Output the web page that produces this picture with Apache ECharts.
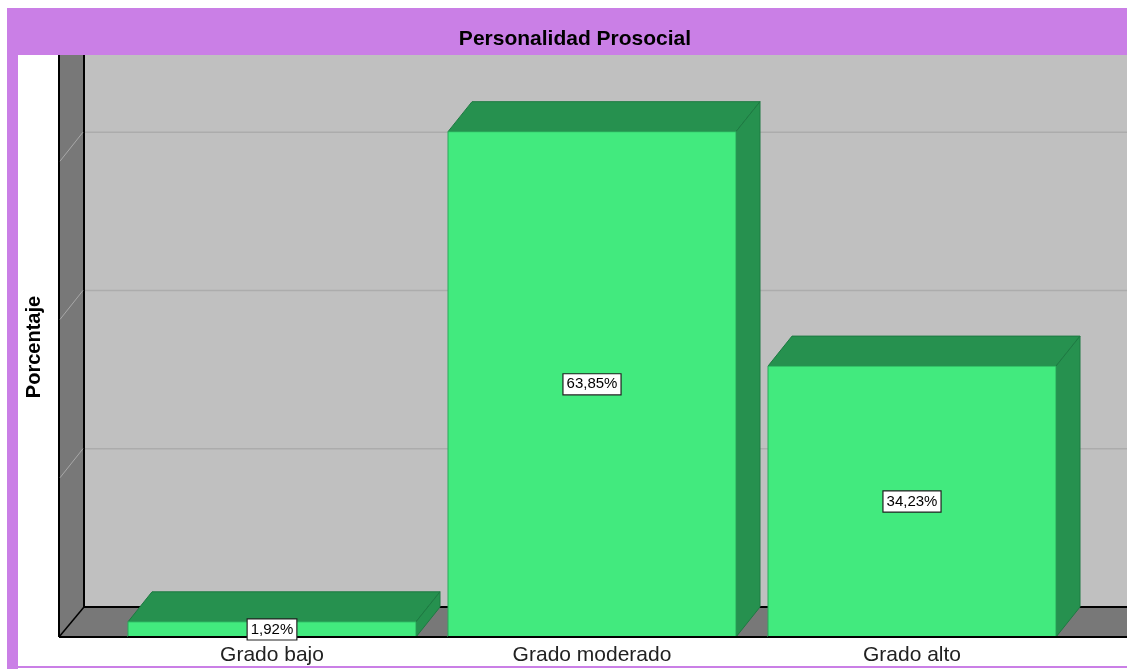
<!DOCTYPE html>
<html>
<head>
<meta charset="utf-8">
<script src="https://cdn.jsdelivr.net/npm/echarts@6/dist/echarts.min.js"></script>
<style>html,body{margin:0;padding:0;background:#fff;}#c{width:1127px;height:669px;}</style>
</head>
<body>
<div id="c"></div>
<script>
var categories = ['Grado bajo', 'Grado moderado', 'Grado alto'];
var percentages = [1.92, 63.85, 34.23];
var yTicks = [0, 20, 40, 60];
var titleText = 'Personalidad Prosocial';
var yName = 'Porcentaje';

var DX = 24, DY = -30;
var FONT = '"Liberation Sans", Arial, sans-serif';
var chart = echarts.init(document.getElementById('c'), null, {renderer: 'canvas'});

function frameItem(params, api) {
  var cs = params.coordSys;
  var y0 = api.coord([0, 0])[1];
  var xF = cs.x - 53, xB = xF + 25;
  var xR = 1127, yT = 55;
  var blk = {stroke: '#000', lineWidth: 2};
  return {type: 'group', children: [
    {type: 'rect', shape: {x: xB, y: yT, width: xR - xB, height: y0 + DY - yT}, style: {fill: '#c0c0c0'}},
    {type: 'polygon', shape: {points: [[xF, yT], [xB, yT], [xB, y0 + DY], [xF, y0]]}, style: {fill: '#787878'}},
    {type: 'polygon', shape: {points: [[xF, y0], [xB, y0 + DY], [xR, y0 + DY], [xR, y0]]}, style: {fill: '#787878'}},
    {type: 'line', shape: {x1: xF, y1: yT, x2: xF, y2: y0}, style: blk},
    {type: 'line', shape: {x1: xB, y1: yT, x2: xB, y2: y0 + DY}, style: blk},
    {type: 'line', shape: {x1: xB, y1: y0 + DY, x2: xR, y2: y0 + DY}, style: blk},
    {type: 'line', shape: {x1: xF, y1: y0, x2: xR, y2: y0}, style: blk},
    {type: 'line', shape: {x1: xF, y1: y0, x2: xB, y2: y0 + DY}, style: {stroke: '#000', lineWidth: 1.5}}
  ]};
}

function gridItem(params, api) {
  var v = api.value(0);
  if (v === 0) return null;
  var cs = params.coordSys;
  var y = api.coord([0, v])[1];
  var xF = cs.x - 53, xB = xF + 25;
  return {type: 'group', children: [
    {type: 'line', shape: {x1: xB + 1, y1: y + DY, x2: 1127, y2: y + DY}, style: {stroke: '#acacac', lineWidth: 1.5}},
    {type: 'line', shape: {x1: xF + 1, y1: y - 1, x2: xB - 1, y2: y + DY}, style: {stroke: '#a8a8a8', lineWidth: 1}}
  ]};
}

function barItem(params, api) {
  var idx = api.value(0), val = api.value(1);
  var top = api.coord([idx, val]);
  var base = api.coord([idx, 0]);
  var w = api.size([1, 0])[0] * 0.9;
  var xL = top[0] - w / 2, xR = top[0] + w / 2;
  var yT = top[1], y0 = base[1];
  var edge = '#1d7a42';
  var label = val.toFixed(2).replace('.', ',') + '%';
  return {type: 'group', children: [
    {type: 'polygon', shape: {points: [[xL, yT], [xL + DX, yT + DY], [xR + DX, yT + DY], [xR, yT]]}, style: {fill: '#26914f', stroke: edge, lineWidth: 1}},
    {type: 'polygon', shape: {points: [[xR, yT], [xR + DX, yT + DY], [xR + DX, y0 + DY], [xR, y0]]}, style: {fill: '#26914f', stroke: edge, lineWidth: 1}},
    {type: 'rect', shape: {x: xL, y: yT, width: w, height: y0 - yT}, style: {fill: '#42ea7e', stroke: '#2aa85a', lineWidth: 1}},
    {type: 'line', shape: {x1: xL, y1: y0, x2: xR + DX, y2: y0}, style: {stroke: '#000', lineWidth: 2}},
    {type: 'text', x: top[0], y: (yT + y0) / 2, style: {
      text: label, align: 'center', verticalAlign: 'middle', fill: '#000',
      font: '15px ' + FONT, backgroundColor: '#fff', borderColor: '#222', borderWidth: 1.2, padding: [3, 3, 2, 3]
    }}
  ]};
}

chart.setOption({
  backgroundColor: '#fff',
  animation: false,
  graphic: [
    {type: 'rect', shape: {x: 7, y: 8, width: 1120, height: 47}, style: {fill: '#ca7fe6'}},
    {type: 'rect', shape: {x: 7, y: 8, width: 11, height: 661}, style: {fill: '#ca7fe6'}},
    {type: 'rect', shape: {x: 7, y: 666, width: 1120, height: 2}, style: {fill: '#ca7fe6'}},
    {type: 'text', x: 575, y: 39, style: {text: titleText, align: 'center', verticalAlign: 'middle',
      font: 'bold 21px ' + FONT, fill: '#000'}},
    {type: 'text', x: 34, y: 347, rotation: Math.PI / 2, style: {text: yName, align: 'center', verticalAlign: 'middle',
      font: 'bold 20px ' + FONT, fill: '#000'}}
  ],
  grid: {left: 112, right: 55, top: 83, bottom: 32},
  xAxis: {type: 'category', data: categories, boundaryGap: true,
    axisLine: {show: false}, axisTick: {show: false}, splitLine: {show: false},
    axisLabel: {fontFamily: FONT, fontSize: 21, color: '#222', margin: 8}},
  yAxis: {type: 'value', min: 0, max: 70, interval: 10,
    axisLine: {show: false}, axisTick: {show: false}, axisLabel: {show: false}, splitLine: {show: false}},
  series: [
    {type: 'custom', z: 1, renderItem: frameItem, data: [[0]], silent: true, clip: false},
    {type: 'custom', z: 2, renderItem: gridItem, data: yTicks.map(function (t) { return [t]; }), silent: true, clip: false},
    {type: 'custom', z: 3, renderItem: barItem, clip: false,
      encode: {x: 0, y: 1},
      data: percentages.map(function (v, i) { return [i, v]; })}
  ]
});
</script>
</body>
</html>
